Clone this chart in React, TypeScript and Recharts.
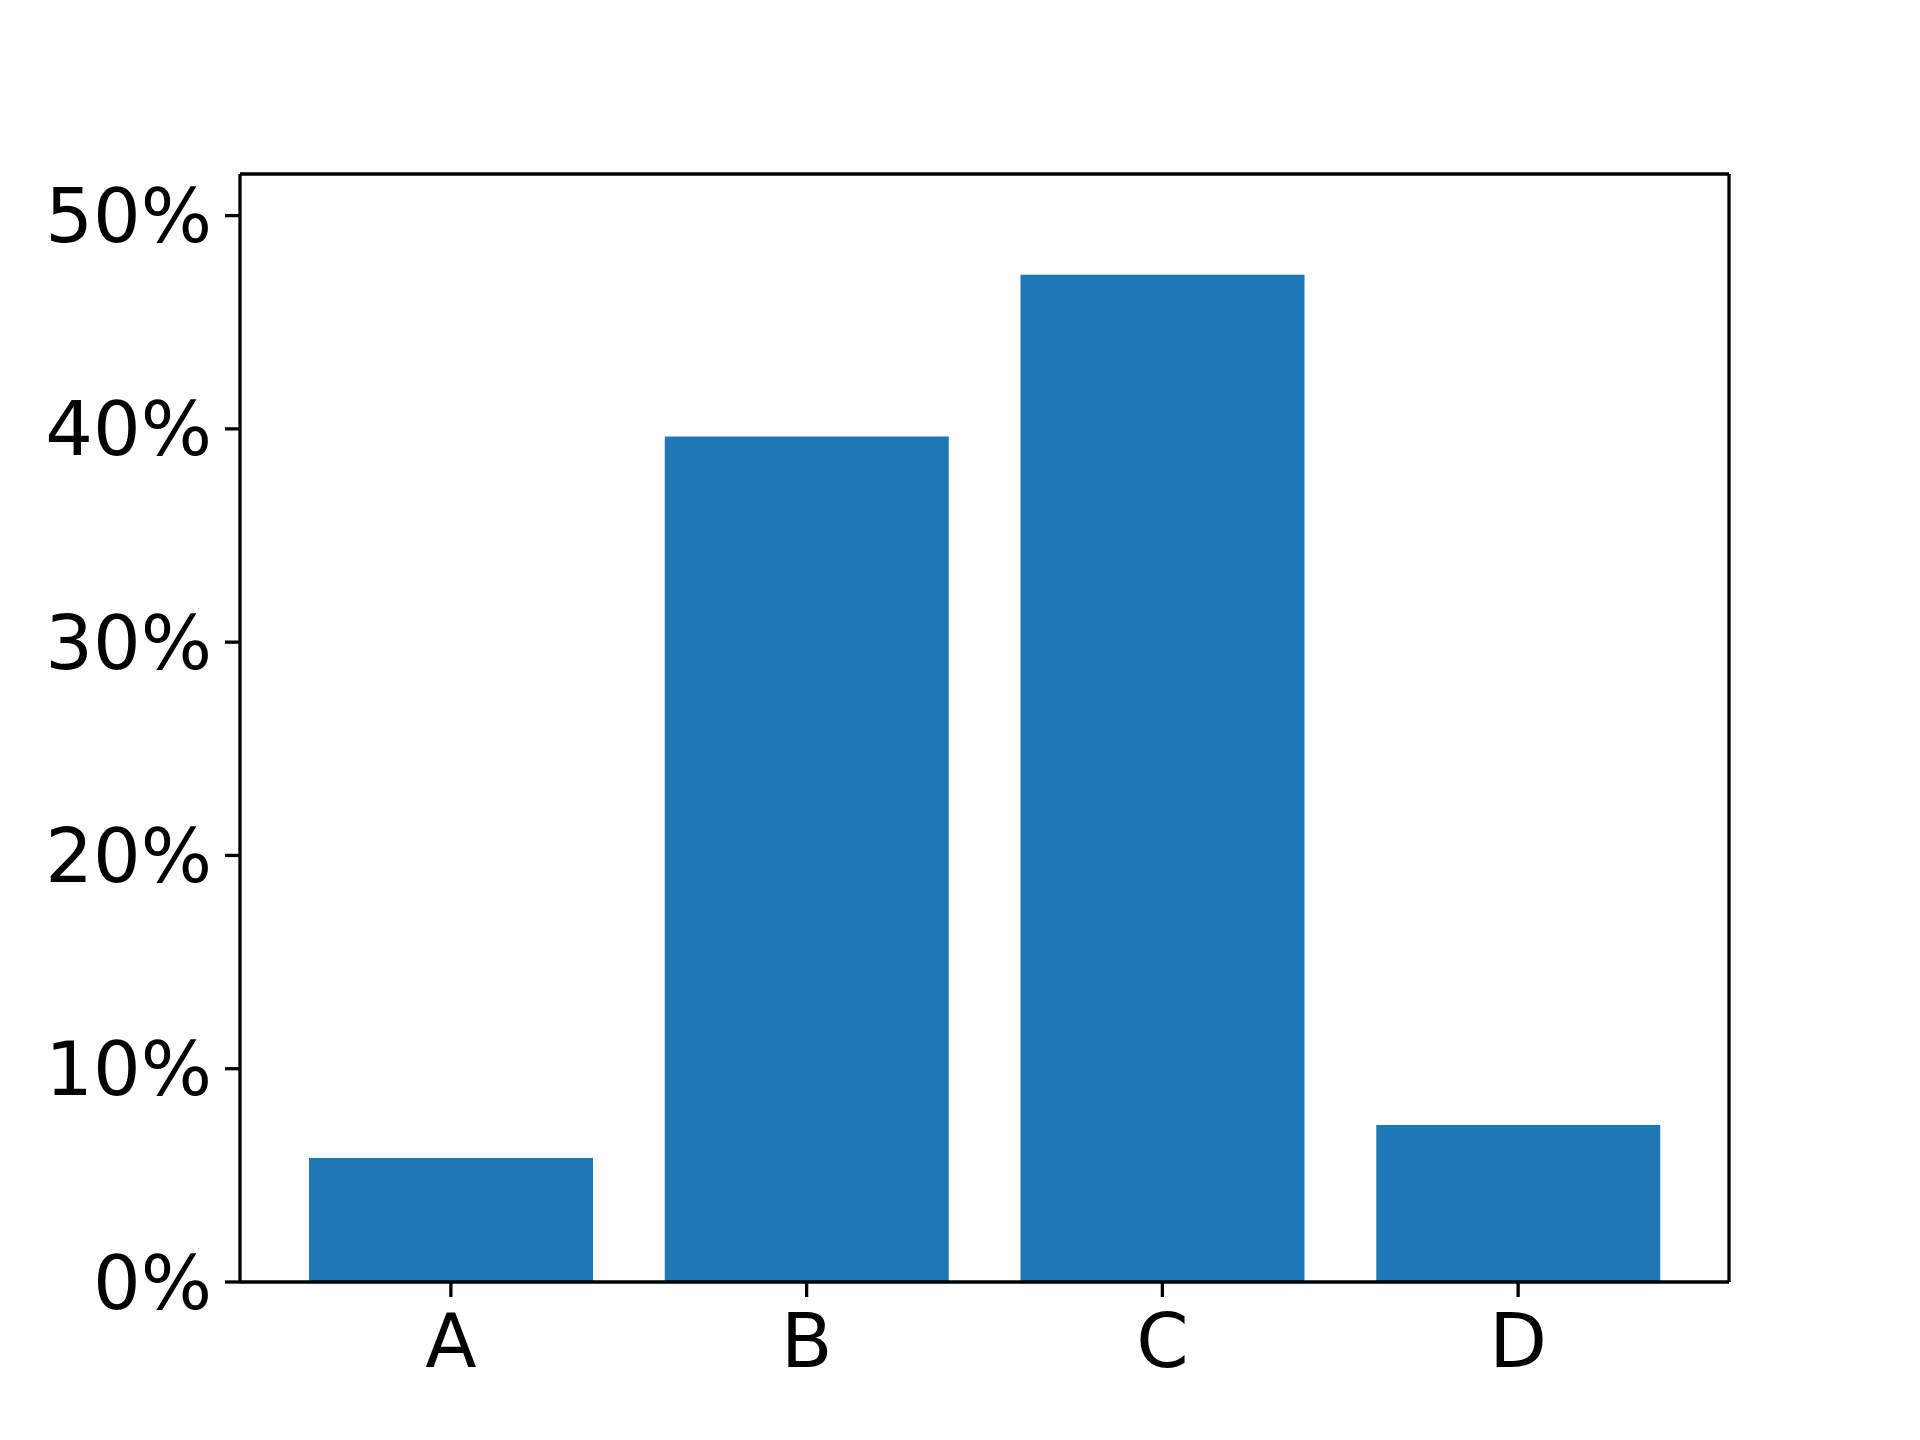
import { ComposedChart, Bar, Line, XAxis, YAxis } from "recharts";

// Category shares, in percent
const categories = ["A", "B", "C", "D"];
const shares = [5.81, 39.64, 47.23, 7.36];
const yTicks = [0, 10, 20, 30, 40, 50];
const yMax = 51.95;

const data = categories.map((name, i) => ({ name, share: shares[i] }));

const tickStyle = { fontSize: 75, fill: "#000", fontFamily: "DejaVu Sans" };
const frame = { stroke: "#000", strokeWidth: 3.3 };

export default function App() {
  return (
    <div style={{ position: "absolute", left: 0, top: 0, width: 1920, height: 1440, background: "#fff" }}>
      <ComposedChart
        width={1920}
        height={1440}
        data={data}
        margin={{ top: 164, right: 181, bottom: 58, left: 40 }}
      >
        <XAxis
          dataKey="name"
          height={100}
          padding={{ left: 33, right: 33 }}
          tick={tickStyle}
          tickSize={15}
          tickMargin={17}
          axisLine={frame}
          tickLine={frame}
        />
        {/* top and right frame lines */}
        <XAxis
          xAxisId="top"
          dataKey="name"
          orientation="top"
          height={10}
          tick={false}
          tickLine={false}
          axisLine={frame}
        />
        <YAxis
          yAxisId="right"
          orientation="right"
          width={10}
          domain={[0, yMax]}
          tick={false}
          tickLine={false}
          axisLine={frame}
        />
        <YAxis
          width={200}
          domain={[0, yMax]}
          ticks={yTicks}
          tickFormatter={(v: number) => `${v}%`}
          tick={tickStyle}
          tickSize={15}
          tickMargin={13}
          axisLine={frame}
          tickLine={frame}
        />
        <Bar dataKey="share" fill="#1f77b4" barSize={284} isAnimationActive={false} />
        {/* invisible series so the frame axes get drawn */}
        <Line
          xAxisId="top"
          yAxisId="right"
          dataKey="share"
          stroke="none"
          dot={false}
          activeDot={false}
          isAnimationActive={false}
        />
      </ComposedChart>
    </div>
  );
}
